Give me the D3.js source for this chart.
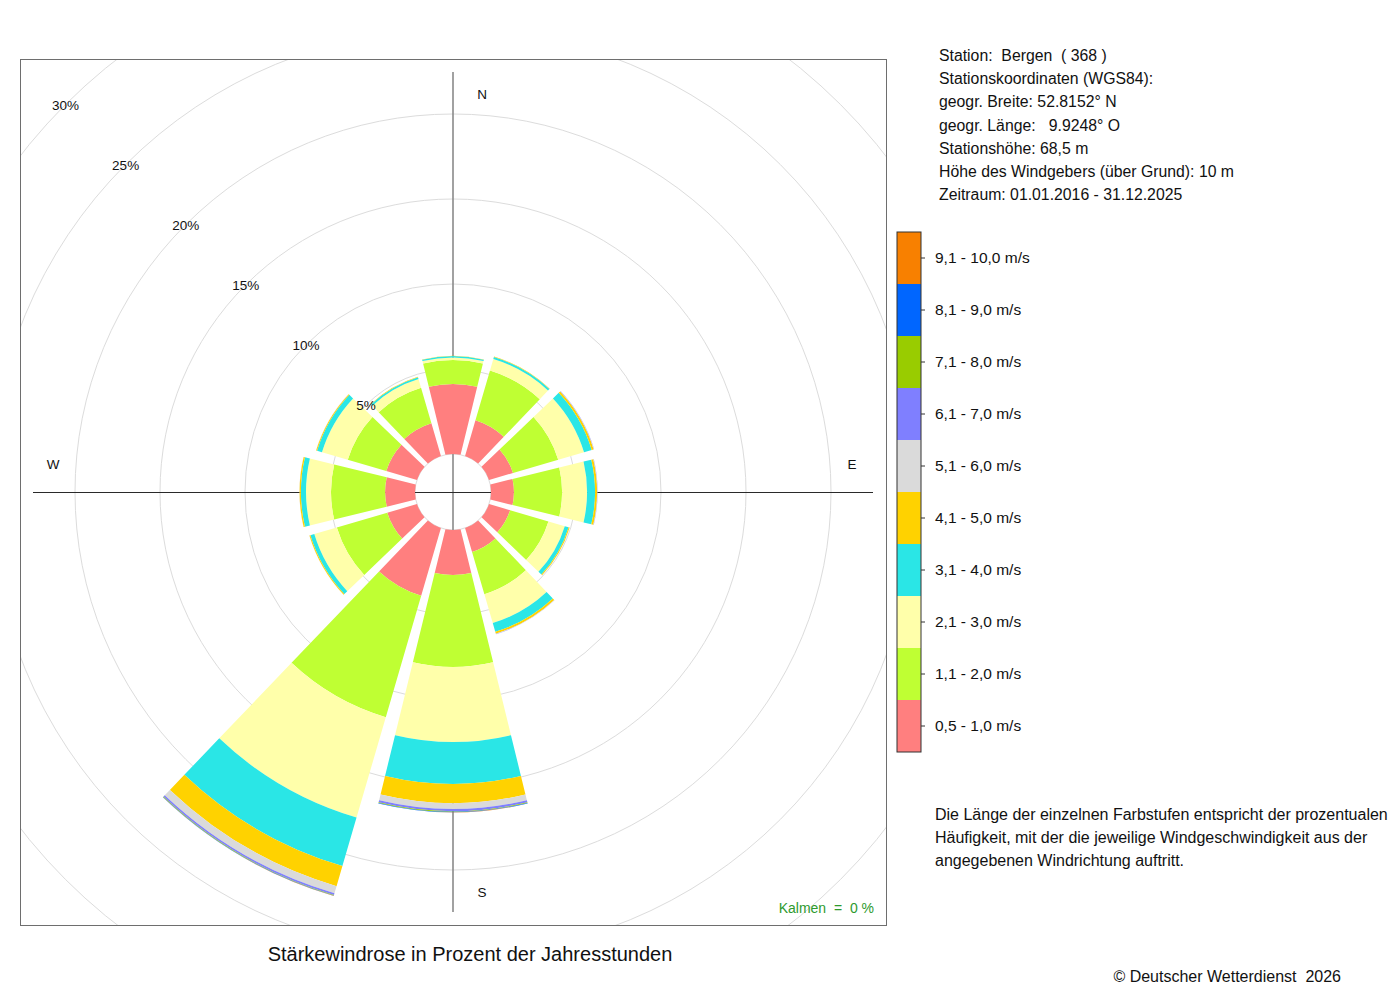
<!DOCTYPE html>
<html>
<head>
<meta charset="utf-8">
<script src="https://cdn.jsdelivr.net/npm/d3@7"></script>
<style>
  body { margin: 0; background: #fff; }
  svg text { font-family: "Liberation Sans", Arial, sans-serif; fill: #111; white-space: pre; }
</style>
</head>
<body>
<div id="chart"></div>
<script>

// wind directions (degrees, sector centres)
var directions = [0, 30, 60, 90, 120, 150, 180, 210, 240, 270, 300, 330];

// speed classes, slowest first
var speedClasses = ["0,5 - 1,0 m/s", "1,1 - 2,0 m/s", "2,1 - 3,0 m/s", "3,1 - 4,0 m/s", "4,1 - 5,0 m/s",
                    "5,1 - 6,0 m/s", "6,1 - 7,0 m/s", "7,1 - 8,0 m/s", "8,1 - 9,0 m/s", "9,1 - 10,0 m/s"];
var classColors = ["#ff7f7f", "#bfff33", "#ffffaa", "#2ae6e6", "#ffd200",
                   "#dadada", "#7f7fff", "#99cc00", "#0066ff", "#f88000"];

// percent of hours per direction, one array per speed class
var v05_10 = [4.12, 2.18, 1.47, 1.35, 1.29, 1.47, 2.65, 4.15, 1.82, 1.76, 1.88, 2.00];
var v11_20 = [1.41, 3.06, 2.77, 2.83, 2.35, 2.59, 5.41, 7.44, 3.09, 3.18, 2.36, 2.18];
var v21_30 = [0.15, 0.70, 1.58, 1.47, 1.00, 1.76, 4.41, 6.15, 1.38, 1.47, 1.58, 0.53];
var v31_40 = [0.08, 0.12, 0.47, 0.47, 0.24, 0.53, 2.47, 2.97, 0.24, 0.30, 0.30, 0.11];
var v41_50 = [0.01, 0.03, 0.12, 0.12, 0.06, 0.12, 1.12, 1.23, 0.06, 0.08, 0.06, 0.03];
var v51_60 = [0.00, 0.01, 0.02, 0.02, 0.01, 0.02, 0.35, 0.44, 0.01, 0.01, 0.01, 0.00];
var v61_70 = [0.00, 0.00, 0.01, 0.01, 0.00, 0.01, 0.12, 0.10, 0.00, 0.00, 0.00, 0.00];
var v71_80 = [0.00, 0.00, 0.00, 0.00, 0.00, 0.00, 0.04, 0.03, 0.00, 0.00, 0.00, 0.00];
var v81_90 = [0.00, 0.00, 0.00, 0.00, 0.00, 0.00, 0.03, 0.02, 0.00, 0.00, 0.00, 0.00];
var v91_100 = [0.00, 0.00, 0.00, 0.00, 0.00, 0.00, 0.01, 0.01, 0.00, 0.00, 0.00, 0.00];
var classValues = [v05_10, v11_20, v21_30, v31_40, v41_50, v51_60, v61_70, v71_80, v81_90, v91_100];

var ringTicks = [5, 10, 15, 20, 25, 30];
var compassLabels = ["N", "E", "S", "W"];

var stationInfo = [
  "Station:  Bergen  ( 368 )",
  "Stationskoordinaten (WGS84):",
  "geogr. Breite: 52.8152° N",
  "geogr. Länge:   9.9248° O",
  "Stationshöhe: 68,5 m",
  "Höhe des Windgebers (über Grund): 10 m",
  "Zeitraum: 01.01.2016 - 31.12.2025"
];
var noteLines = [
  "Die Länge der einzelnen Farbstufen entspricht der prozentualen",
  "Häufigkeit, mit der die jeweilige Windgeschwindigkeit aus der",
  "angegebenen Windrichtung auftritt."
];
var calmText = "Kalmen  =  0 %";
var titleText = "Stärkewindrose in Prozent der Jahresstunden";
var creditText = "© Deutscher Wetterdienst  2026";

// ---------------------------------------------------------------

var width = 1400, height = 1000;
var frame = { x: 20, y: 59, size: 866 };
var cx = frame.x + frame.size / 2, cy = frame.y + frame.size / 2;
var halfSector = 13.75;

var svg = d3.select("#chart").append("svg")
  .attr("width", width)
  .attr("height", height);

svg.append("defs").append("clipPath")
  .attr("id", "frame-clip")
  .append("rect")
  .attr("x", frame.x).attr("y", frame.y)
  .attr("width", frame.size).attr("height", frame.size);

var r = d3.scaleLinear()
  .domain([0, 30])
  .range([38, 548]);

var plot = svg.append("g")
  .attr("clip-path", "url(#frame-clip)");

var g = plot.append("g")
  .attr("transform", "translate(" + cx + "," + cy + ")");

// grid rings
g.selectAll(".ring")
  .data([0].concat(ringTicks))
  .enter().append("circle")
  .attr("class", "ring")
  .attr("r", function(d){ return r(d); })
  .attr("fill", "none")
  .attr("stroke", "#dcdcdc")
  .attr("stroke-width", 1);

// cross axes (half-pixel offset keeps them crisp)
g.append("line")
  .attr("x1", 0).attr("x2", 0)
  .attr("y1", -420).attr("y2", 420)
  .attr("stroke", "#8a8a8a")
  .attr("stroke-width", 1.6);
g.append("line")
  .attr("x1", -420).attr("x2", 420)
  .attr("y1", 0.5).attr("y2", 0.5)
  .attr("stroke", "#2a2a2a")
  .attr("stroke-width", 1);

// stacked sectors
var keys = speedClasses.map(function(d, i){ return "c" + i; });
var rows = directions.map(function(dir, i){
  var row = { dir: dir };
  classValues.forEach(function(vals, k){ row["c" + k] = vals[i]; });
  return row;
});
var stacked = d3.stack().keys(keys)(rows);

var arc = d3.arc()
  .innerRadius(function(d){ return r(d[0]); })
  .outerRadius(function(d){ return r(d[1]); })
  .startAngle(function(d){ return (d.data.dir - halfSector) * Math.PI / 180; })
  .endAngle(function(d){ return (d.data.dir + halfSector) * Math.PI / 180; })
  .padAngle(0.03)
  .padRadius(100);

var layer = g.selectAll(".layer")
  .data(stacked)
  .enter().append("g")
  .attr("class", "layer")
  .attr("fill", function(d, i){ return classColors[i]; });

layer.selectAll("path")
  .data(function(d){ return d.filter(function(s){ return s[1] - s[0] > 0; }); })
  .enter().append("path")
  .attr("d", arc);

// ring labels on the NW diagonal
var diag = Math.SQRT1_2;
g.selectAll(".ring-label")
  .data(ringTicks)
  .enter().append("text")
  .attr("class", "ring-label")
  .attr("x", function(d){ return -r(d) * diag; })
  .attr("y", function(d){ return -r(d) * diag; })
  .attr("text-anchor", "middle")
  .attr("dy", "0.4em")
  .style("font-size", "13.5px")
  .text(function(d){ return d + "%"; });

// compass letters
var compassPos = {
  N: [29, -398], E: [399, -28], S: [29, 400], W: [-400, -28]
};
g.selectAll(".compass")
  .data(compassLabels)
  .enter().append("text")
  .attr("class", "compass")
  .attr("x", function(d){ return compassPos[d][0]; })
  .attr("y", function(d){ return compassPos[d][1]; })
  .attr("text-anchor", "middle")
  .attr("dy", "0.35em")
  .style("font-size", "13.5px")
  .text(function(d){ return d; });

// frame
svg.append("rect")
  .attr("x", frame.x + 0.5).attr("y", frame.y + 0.5)
  .attr("width", frame.size).attr("height", frame.size)
  .attr("fill", "none")
  .attr("stroke", "#6e6e6e")
  .attr("stroke-width", 1);

svg.append("text")
  .attr("x", 874).attr("y", 913)
  .attr("text-anchor", "end")
  .style("font-size", "14px")
  .style("fill", "#2e9a2e")
  .text(calmText);

svg.append("text")
  .attr("x", 470).attr("y", 961)
  .attr("text-anchor", "middle")
  .style("font-size", "20px")
  .text(titleText);

// station block
svg.selectAll(".info")
  .data(stationInfo)
  .enter().append("text")
  .attr("class", "info")
  .attr("x", 939)
  .attr("y", function(d, i){ return 61 + i * 23.2; })
  .style("font-size", "15.8px")
  .text(function(d){ return d; });

// legend colour bar
var legendY = d3.scaleBand()
  .domain(speedClasses.slice().reverse())
  .range([232, 752]);

var legend = svg.append("g");
legend.selectAll("rect")
  .data(speedClasses)
  .enter().append("rect")
  .attr("x", 897)
  .attr("y", function(d){ return legendY(d); })
  .attr("width", 24)
  .attr("height", legendY.bandwidth())
  .attr("fill", function(d, i){ return classColors[i]; });
legend.append("rect")
  .attr("x", 897).attr("y", 232)
  .attr("width", 24).attr("height", 520)
  .attr("fill", "none")
  .attr("stroke", "#333")
  .attr("stroke-width", 1);

var legendAxis = legend.append("g")
  .attr("transform", "translate(921,0)")
  .call(d3.axisRight(legendY).tickSize(4).tickPadding(10));
legendAxis.select(".domain").remove();
legendAxis.selectAll("line").attr("stroke", "#333");
legendAxis.selectAll("text")
  .style("font-size", "15.5px")
  .style("font-family", "\"Liberation Sans\", Arial, sans-serif")
  .attr("fill", "#111");

// explanation
svg.selectAll(".note")
  .data(noteLines)
  .enter().append("text")
  .attr("class", "note")
  .attr("x", 935)
  .attr("y", function(d, i){ return 820 + i * 23; })
  .style("font-size", "16px")
  .text(function(d){ return d; });

svg.append("text")
  .attr("x", 1341).attr("y", 982)
  .attr("text-anchor", "end")
  .style("font-size", "16px")
  .text(creditText);

</script>
</body>
</html>
